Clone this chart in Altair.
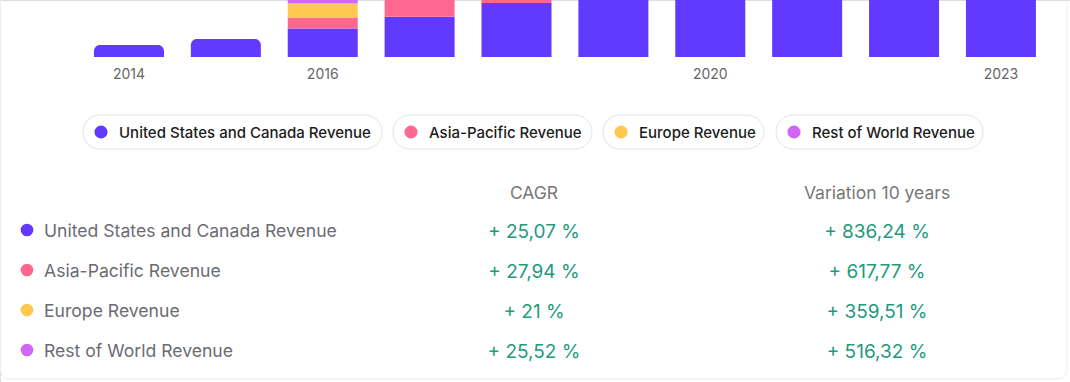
import altair as alt
import pandas as pd

# ---------------- data ----------------
years = ["2014", "2015", "2016", "2017", "2018", "2019", "2020", "2021", "2022", "2023"]
series = ["United States and Canada Revenue", "Asia-Pacific Revenue", "Europe Revenue", "Rest of World Revenue"]
colors = ["#6139FF", "#FF6790", "#FFC94F", "#D066F4"]

us_values = [1.2, 1.8, 2.85, 4.03, 5.4, 6.5, 7.6, 8.5, 9.8, 11.2]
ap_values = [0.0, 0.0, 1.1, 2.0, 0.9, 1.0, 1.2, 1.4, 1.6, 1.8]
eu_values = [0.0, 0.0, 1.4, 1.6, 1.7, 1.9, 2.2, 2.5, 2.8, 3.1]
row_values = [0.0, 0.0, 0.7, 0.8, 0.9, 1.0, 1.1, 1.2, 1.3, 1.4]

shown_year_labels = ["2014", "2016", "2020", "2023"]

cagr_labels = ["+ 25,07 %", "+ 27,94 %", "+ 21 %", "+ 25,52 %"]
variation_labels = ["+ 836,24 %", "+ 617,77 %", "+ 359,51 %", "+ 516,32 %"]
table_columns = ["CAGR", "Variation 10 years"]

# legend pill layout (pixels)
pill_left = [83, 393, 603, 776]
pill_right = [382, 592, 764, 983]

# ---------------- build tables ----------------
values_by_series = [us_values, ap_values, eu_values, row_values]
rows = []
for yi, yr in enumerate(years):
    base = 0.0
    segs = []
    for si, s in enumerate(series):
        v = values_by_series[si][yi]
        if v > 0:
            segs.append({"year": yr, "series": s, "y0": base, "y1": base + v, "top": False})
            base += v
    if segs:
        segs[-1]["top"] = True
    rows.extend(segs)
bars_df = pd.DataFrame(rows)

year_scale = alt.Scale(domain=years, range=[80.4, 1049.5], paddingInner=0.2775, paddingOuter=0.14)
val_scale = alt.Scale(domain=[0, 5.7], range=[57, 0], nice=False, zero=True)
color_scale = alt.Scale(domain=series, range=colors)

bar_enc = dict(
    x=alt.X("year:O", scale=year_scale, axis=None),
    y=alt.Y("y0:Q", scale=val_scale, axis=None),
    y2="y1:Q",
    color=alt.Color("series:N", scale=color_scale, legend=None),
)

bars_flat = alt.Chart(bars_df).mark_bar(clip=True).encode(**bar_enc).transform_filter("!datum.top")
bars_top = alt.Chart(bars_df).mark_bar(clip=True, cornerRadiusTopLeft=6, cornerRadiusTopRight=6).encode(**bar_enc).transform_filter("datum.top")

labels_df = pd.DataFrame({"year": shown_year_labels})
year_text = alt.Chart(labels_df).mark_text(font="Inter", fontSize=14, color="#666666", baseline="middle").encode(
    x=alt.X("year:O", scale=year_scale, axis=None),
    y=alt.value(74.5),
    text="year:N",
)
bars_group = alt.layer(bars_flat, bars_top, year_text)

# ---------------- legend ----------------
leg_df = pd.DataFrame({
    "name": series,
    "x0": pill_left,
    "x1": pill_right,
})
leg_df["cx"] = leg_df["x0"] + 18
leg_df["tx"] = leg_df["x0"] + 36

pills = alt.Chart(leg_df).mark_rect(cornerRadius=17, fill="white", stroke="#e4e4e4", strokeWidth=1).encode(
    x=alt.X("x0:Q", scale=None, axis=None), x2="x1:Q", y=alt.value(115), y2=alt.value(149)
)
leg_dots = alt.Chart(leg_df).mark_circle(size=170, opacity=1).encode(
    x=alt.X("cx:Q", scale=None, axis=None), y=alt.value(132),
    color=alt.Color("name:N", scale=color_scale, legend=None),
)
leg_text = alt.Chart(leg_df).mark_text(align="left", baseline="middle", font="Inter", fontSize=15, fontWeight=500, color="#1c1c1c", dy=0.5).encode(
    x=alt.X("tx:Q", scale=None, axis=None), y=alt.value(132), text="name:N"
)
legend_group = alt.layer(pills, leg_dots, leg_text)

# ---------------- table ----------------
tbl_df = pd.DataFrame({"name": series})
cells = []
for i, s in enumerate(series):
    cells.append({"name": s, "col": table_columns[0], "val": cagr_labels[i]})
    cells.append({"name": s, "col": table_columns[1], "val": variation_labels[i]})
cells_df = pd.DataFrame(cells)
hdr_df = pd.DataFrame({"col": table_columns})

row_scale = alt.Scale(type="point", domain=series, range=[230, 350], padding=0)
col_scale = alt.Scale(type="point", domain=table_columns, range=[534, 877], padding=0)

tbl_dots = alt.Chart(tbl_df).mark_circle(size=160, opacity=1).encode(
    x=alt.value(27), y=alt.Y("name:N", scale=row_scale, axis=None),
    color=alt.Color("name:N", scale=color_scale, legend=None),
)
tbl_names = alt.Chart(tbl_df).mark_text(align="left", baseline="middle", font="Inter", fontSize=17.6, color="#6b6b73", dy=1.5).encode(
    x=alt.value(44), y=alt.Y("name:N", scale=row_scale, axis=None), text="name:N"
)
tbl_vals = alt.Chart(cells_df).mark_text(align="center", baseline="middle", font="Inter", fontSize=19, color="#1f9a7c", dy=1.5).encode(
    x=alt.X("col:N", scale=col_scale, axis=None), y=alt.Y("name:N", scale=row_scale, axis=None), text="val:N"
)
tbl_hdr = alt.Chart(hdr_df).mark_text(align="center", baseline="middle", font="Inter", fontSize=17.5, color="#777777").encode(
    x=alt.X("col:N", scale=col_scale, axis=None), y=alt.value(193.5), text="col:N"
)
table_group = alt.layer(tbl_dots, tbl_names, tbl_vals, tbl_hdr)

# ---------------- card border ----------------
card = alt.Chart(pd.DataFrame({"a": [0]})).mark_rect(fill="transparent", stroke="#ececec", strokeWidth=1, cornerRadius=9).encode(
    x=alt.value(0.5), x2=alt.value(1067), y=alt.value(-20), y2=alt.value(379)
)

chart = alt.layer(card, bars_group, legend_group, table_group).resolve_scale(
    x="independent", y="independent", color="independent"
).properties(
    width=1070, height=382, autosize=alt.AutoSizeParams(type="none"), padding=0
).configure_view(stroke=None).configure(background="white")

chart.save("out.html", embed_options={"renderer": "svg", "actions": False})
